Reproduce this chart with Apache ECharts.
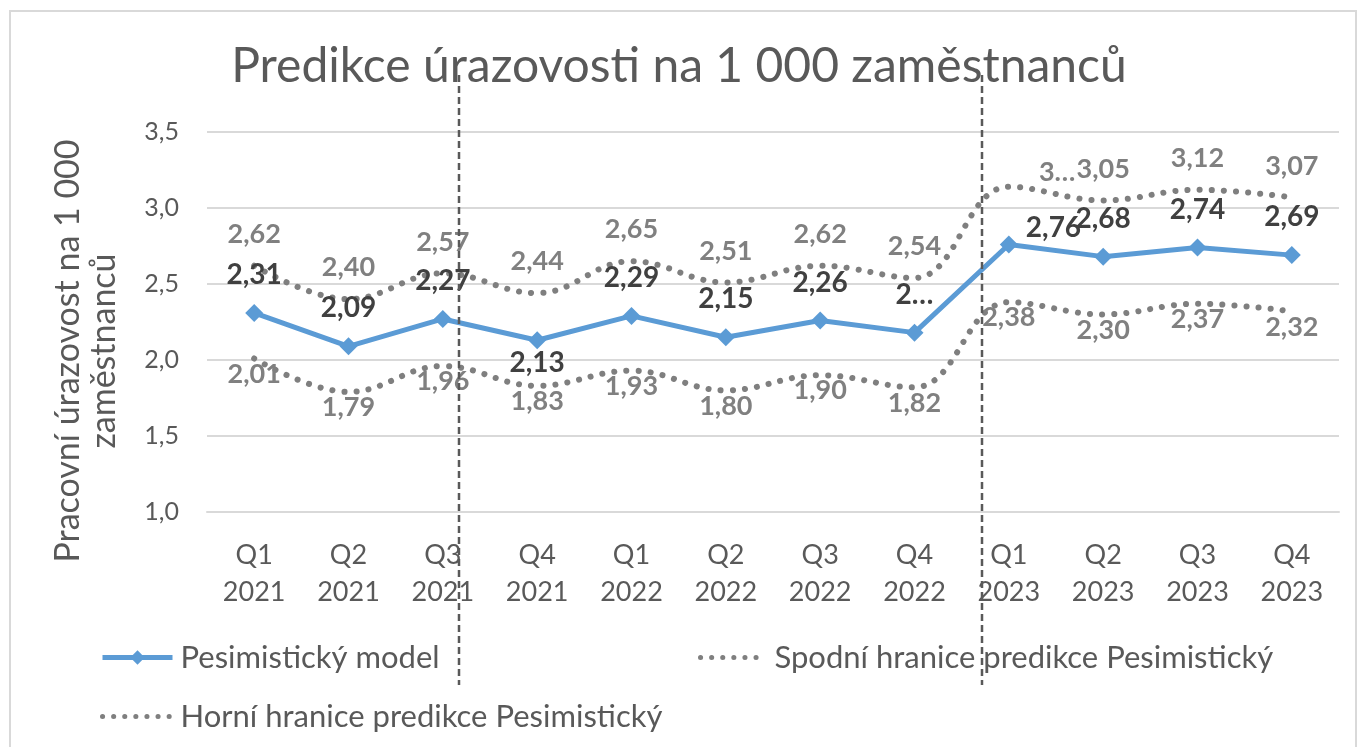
<!DOCTYPE html>
<html>
<head>
<meta charset="utf-8">
<script src="https://cdn.jsdelivr.net/npm/echarts@6/dist/echarts.min.js"></script>
<style>
  html, body { margin: 0; padding: 0; background: #fff; }
  #main { width: 1358px; height: 747px; }
</style>
</head>
<body>
<div id="main"></div>
<script>
var categories = ['Q1\n2021', 'Q2\n2021', 'Q3\n2021', 'Q4\n2021',
                  'Q1\n2022', 'Q2\n2022', 'Q3\n2022', 'Q4\n2022',
                  'Q1\n2023', 'Q2\n2023', 'Q3\n2023', 'Q4\n2023'];
var modelValues = [2.31, 2.09, 2.27, 2.13, 2.29, 2.15, 2.26, 2.18, 2.76, 2.68, 2.74, 2.69];
var lowerValues = [2.01, 1.79, 1.96, 1.83, 1.93, 1.80, 1.90, 1.82, 2.38, 2.30, 2.37, 2.32];
var upperValues = [2.62, 2.40, 2.57, 2.44, 2.65, 2.51, 2.62, 2.54, 3.14, 3.05, 3.12, 3.07];
var yTicks = { min: 1.0, max: 3.5, interval: 0.5 };
// labels that Excel cut short in the original
var modelCut = { 7: '2…' };
var upperCut = { 8: '3…' };

var seriesNames = ['Pesimistický model', 'Spodní hranice predikce Pesimistický', 'Horní hranice predikce Pesimistický'];

var dom = document.getElementById('main');
var myChart = echarts.init(dom);
var font = 'Lato, "Open Sans", sans-serif';

function fmt(v) { return v.toFixed(2).replace('.', ','); }

var modelData = modelValues.map(function (v, i) {
    var d = { value: v };
    if (i === 3) d.label = { position: 'bottom', distance: 0 };
    if (i === 8) d.label = { position: 'right', distance: 8, offset: [0, -17] };
    return d;
});
var upperData = upperValues.map(function (v, i) {
    var d = { value: v };
    if (i === 8) d.label = { position: 'right', distance: 30, offset: [0, -14] };
    return d;
});

var dotted = { type: [0.1, 12], width: 6, cap: 'round', color: '#7f7f7f' };
var legendText = { fontSize: 31, color: '#595959', fontFamily: font, padding: [0, 0, 0, 3] };

var option = {
    animation: false,
    textStyle: { fontFamily: font },
    title: {
        text: 'Predikce úrazovosti na 1 000 zaměstnanců',
        left: 'center',
        top: 38,
        textStyle: { fontSize: 48, fontWeight: 'normal', color: '#595959', fontFamily: font }
    },
    legend: [
        { data: [seriesNames[0]], left: 95, top: 637, itemWidth: 70, itemHeight: 18,
          lineStyle: { width: 5 }, textStyle: legendText },
        { data: [{ name: seriesNames[1], itemStyle: { opacity: 0 } }], left: 693, top: 637,
          itemWidth: 66, itemHeight: 18, lineStyle: { width: 5, type: [0.1, 11], cap: 'round' },
          textStyle: legendText },
        { data: [{ name: seriesNames[2], itemStyle: { opacity: 0 } }], left: 95, top: 696,
          itemWidth: 70, itemHeight: 18, lineStyle: { width: 5, type: [0.1, 11], cap: 'round' },
          textStyle: legendText }
    ],
    grid: { left: 207, right: 19, top: 132, bottom: 235 },
    xAxis: {
        type: 'category',
        data: categories,
        axisLine: { lineStyle: { color: '#d9d9d9', width: 2 } },
        axisTick: { show: false },
        axisLabel: { fontSize: 27, color: '#595959', margin: 25, lineHeight: 37, fontFamily: font }
    },
    yAxis: {
        type: 'value',
        min: yTicks.min,
        max: yTicks.max,
        interval: yTicks.interval,
        name: 'Pracovní úrazovost na 1 000\nzaměstnanců',
        nameLocation: 'middle',
        nameGap: 85,
        nameTextStyle: { fontSize: 34, color: '#595959', lineHeight: 36, fontFamily: font,
                         padding: [0, 58, 0, 0] },
        axisLine: { show: false },
        axisTick: { show: false },
        axisLabel: { fontSize: 25, color: '#595959', margin: 28, fontFamily: font,
                     formatter: function (v) { return v.toFixed(1).replace('.', ','); } },
        splitLine: { lineStyle: { color: '#d9d9d9', width: 2 } }
    },
    series: [
        {
            name: seriesNames[1],
            type: 'line',
            data: lowerValues,
            smooth: 0.4,
            symbol: 'circle',
            symbolSize: 0.1,
            lineStyle: dotted,
            itemStyle: { color: '#7f7f7f' },
            label: {
                show: true, position: 'bottom', distance: 2,
                fontSize: 27, fontWeight: 'bold', color: '#808080', fontFamily: font,
                formatter: function (p) { return fmt(p.value); }
            },
            z: 2
        },
        {
            name: seriesNames[2],
            type: 'line',
            data: upperData,
            smooth: 0.4,
            symbol: 'circle',
            symbolSize: 0.1,
            lineStyle: dotted,
            itemStyle: { color: '#7f7f7f' },
            label: {
                show: true, position: 'top', distance: 18,
                fontSize: 27, fontWeight: 'bold', color: '#808080', fontFamily: font,
                formatter: function (p) { return upperCut[p.dataIndex] || fmt(p.value); }
            },
            z: 2
        },
        {
            name: seriesNames[0],
            type: 'line',
            data: modelData,
            symbol: 'diamond',
            symbolSize: 18,
            lineStyle: { color: '#5b9bd5', width: 5 },
            itemStyle: { color: '#5b9bd5' },
            label: {
                show: true, position: 'top', distance: 15,
                fontSize: 28, fontWeight: 'bold', color: '#404040', fontFamily: font,
                formatter: function (p) { return modelCut[p.dataIndex] || fmt(p.value); }
            },
            z: 3
        }
    ],
    graphic: [
        { type: 'rect', shape: { x: 10, y: 11, width: 1346, height: 760 },
          style: { fill: 'none', stroke: '#d9d9d9', lineWidth: 2 }, silent: true },
        { type: 'line', shape: { x1: 459, y1: 75, x2: 459, y2: 685 },
          style: { stroke: '#595959', lineWidth: 2.5, lineDash: [7, 4] }, silent: true, z: 10 },
        { type: 'line', shape: { x1: 982, y1: 75, x2: 982, y2: 685 },
          style: { stroke: '#595959', lineWidth: 2.5, lineDash: [7, 4] }, silent: true, z: 10 }
    ]
};

if (option && typeof option === 'object') {
    myChart.setOption(option, true);
}
</script>
</body>
</html>
